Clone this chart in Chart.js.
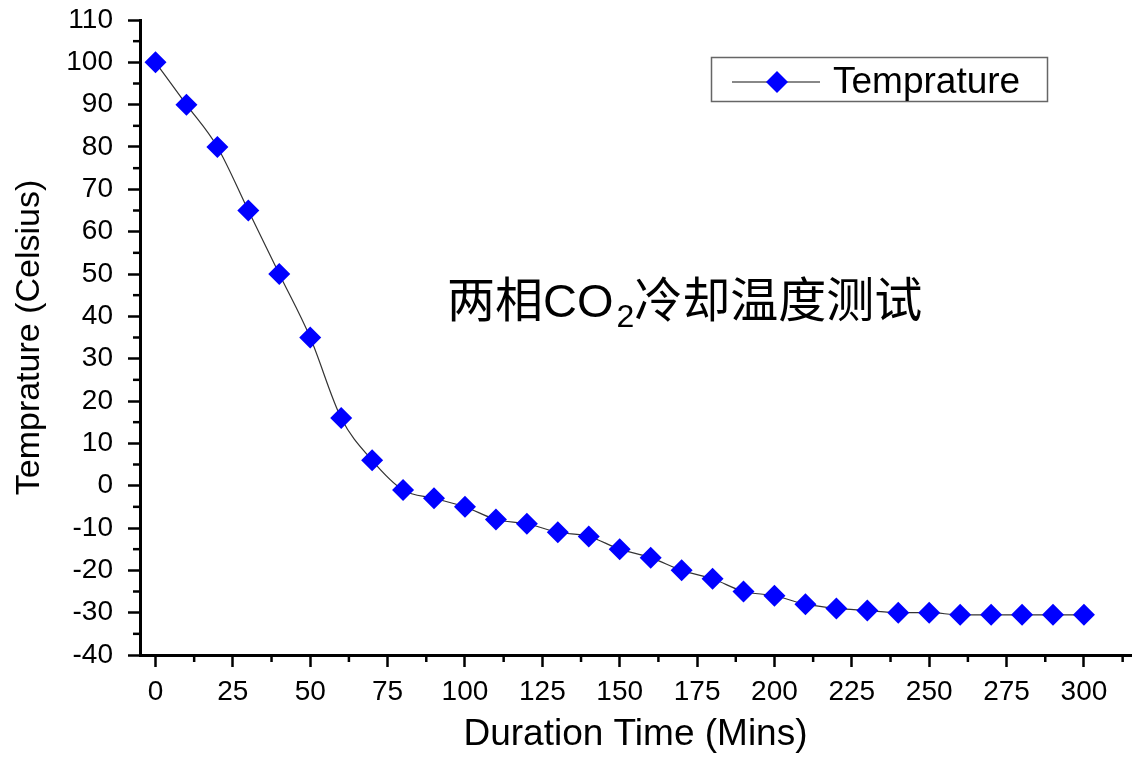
<!DOCTYPE html>
<html>
<head>
<meta charset="utf-8">
<script src="https://cdn.jsdelivr.net/npm/chart.js@4.4.1/dist/chart.umd.min.js"></script>
<style>
  html, body { margin: 0; padding: 0; background: #fff; overflow: hidden; }
  #wrap { width: 1142px; height: 759px; }
  canvas { display: block; }
</style>
</head>
<body>
<div id="wrap"><canvas id="temp-chart"></canvas></div>
<script>
// data
const times = [0, 10, 20, 30, 40, 50, 60, 70, 80, 90, 100, 110, 120, 130, 140, 150,
  160, 170, 180, 190, 200, 210, 220, 230, 240, 250, 260, 270, 280, 290, 300];
const temps = [100, 90, 80, 65, 50, 35, 16, 6, -1, -3, -5, -8, -9, -11, -12, -15,
  -17, -20, -22, -25, -26, -28, -29, -29.5, -30, -30, -30.5, -30.5, -30.5, -30.5, -30.5];

const xTicks = [0, 25, 50, 75, 100, 125, 150, 175, 200, 225, 250, 275, 300];
const yTicks = [-40, -30, -20, -10, 0, 10, 20, 30, 40, 50, 60, 70, 80, 90, 100, 110];

const seriesName = "Temprature";
const xTitle = "Duration Time (Mins)";
const yTitle = "Temprature (Celsius)";
const noteParts = [["两相", "cjk"], ["CO", "latin"], ["2", "sub"], ["冷却温度测试", "cjk"]];

const latin = "'Liberation Sans', Arial, sans-serif";
const cjk = "'Noto Sans CJK SC', sans-serif";
const blue = "#0000ff";

const points = times.map((t, i) => ({ x: t, y: temps[i] }));

// minor ticks, legend box and the chinese note
const extras = {
  id: "extras",
  afterDraw(chart) {
    const ctx = chart.ctx;
    const xs = chart.scales.x;
    const ys = chart.scales.y;
    const area = chart.chartArea;
    ctx.save();
    ctx.strokeStyle = "#000";
    ctx.lineWidth = 2.5;

    const xStep = xTicks[1] - xTicks[0];
    for (let i = 0; i < xTicks.length; i++) {
      const v = xTicks[i] + xStep / 2;
      if (v > xs.max) break;
      const px = xs.getPixelForValue(v);
      ctx.beginPath();
      ctx.moveTo(px, area.bottom);
      ctx.lineTo(px, area.bottom + 7);
      ctx.stroke();
    }
    for (let i = 0; i < yTicks.length - 1; i++) {
      const v = (yTicks[i] + yTicks[i + 1]) / 2;
      const py = ys.getPixelForValue(v);
      ctx.beginPath();
      ctx.moveTo(area.left, py);
      ctx.lineTo(area.left - 7, py);
      ctx.stroke();
    }

    // legend
    ctx.strokeStyle = "#666";
    ctx.lineWidth = 1.5;
    ctx.strokeRect(711.5, 57.5, 336, 44);
    ctx.strokeStyle = "#888";
    ctx.lineWidth = 2;
    ctx.beginPath();
    ctx.moveTo(732, 82);
    ctx.lineTo(820, 82);
    ctx.stroke();
    ctx.fillStyle = blue;
    Chart.helpers.drawPoint(ctx, { pointStyle: "rectRot", radius: 11, borderWidth: 0 }, 777, 82);
    ctx.fillStyle = "#000";
    ctx.textBaseline = "alphabetic";
    ctx.textAlign = "left";
    ctx.font = "37px " + latin;
    ctx.fillText(chart.data.datasets[0].label, 833, 93);

    // note
    let x = 447;
    const base = 317;
    noteParts.forEach(([txt, kind]) => {
      if (kind === "cjk") {
        ctx.font = "48px " + cjk;
        ctx.fillText(txt, x, base);
      } else if (kind === "latin") {
        ctx.font = "47px " + latin;
        ctx.fillText(txt, x, base);
      } else {
        ctx.font = "32px " + latin;
        ctx.fillText(txt, x + 3, base + 10);
        x += 3;
      }
      x += ctx.measureText(txt).width;
    });
    ctx.restore();
  }
};

new Chart(document.getElementById("temp-chart"), {
  type: "line",
  data: {
    datasets: [{
      label: seriesName,
      data: points,
      borderColor: "#333",
      borderWidth: 1.2,
      cubicInterpolationMode: "monotone",
      pointStyle: "rectRot",
      pointRadius: 11,
      pointBorderWidth: 0,
      pointBackgroundColor: blue,
      pointBorderColor: blue
    }]
  },
  options: {
    responsive: true,
    maintainAspectRatio: false,
    animation: false,
    layout: { padding: { top: 20, right: 0, bottom: 0, left: 0 } },
    plugins: {
      legend: { display: false },
      tooltip: { enabled: false }
    },
    scales: {
      x: {
        type: "linear",
        min: -5,
        max: 315.2,
        afterBuildTicks: s => { s.ticks = xTicks.map(v => ({ value: v })); },
        afterFit: s => { s.height = 104; },
        border: { color: "#000", width: 3 },
        grid: { drawOnChartArea: false, tickLength: 12, tickWidth: 2.5, tickColor: "#000" },
        ticks: { color: "#000", font: { family: latin, size: 28 }, padding: 8, maxRotation: 0, autoSkip: false },
        title: { display: true, text: xTitle, color: "#000", font: { family: latin, size: 37 }, padding: { top: 0, bottom: 2 } }
      },
      y: {
        min: -40,
        max: 110,
        afterBuildTicks: s => { s.ticks = yTicks.map(v => ({ value: v })); },
        afterFit: s => { s.width = 140; s.paddingTop = 0; s.paddingBottom = 0; },
        border: { color: "#000", width: 3 },
        grid: { drawOnChartArea: false, tickLength: 12, tickWidth: 2.5, tickColor: "#000" },
        ticks: { color: "#000", font: { family: latin, size: 28 }, padding: 15, autoSkip: false },
        title: { display: true, text: yTitle, color: "#000", font: { family: latin, size: 34 }, padding: { top: 9, bottom: 0 } }
      }
    }
  },
  plugins: [extras]
});
</script>
</body>
</html>
